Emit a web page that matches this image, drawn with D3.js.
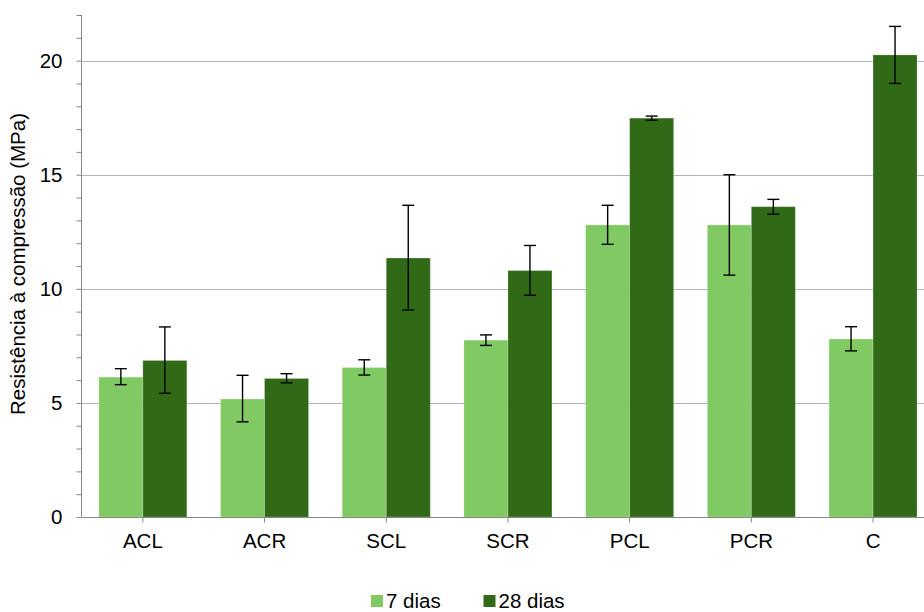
<!DOCTYPE html>
<html>
<head>
<meta charset="utf-8">
<script src="https://cdn.jsdelivr.net/npm/d3@7"></script>
<style>
  body { margin: 0; background: #fff; }
  text { font-family: "Liberation Sans", Arial, sans-serif; fill: #000; }
</style>
</head>
<body>
<div id="chart"></div>
<script>
// data
var categories = ["ACL", "ACR", "SCL", "SCR", "PCL", "PCR", "C"];
var series = ["7 dias", "28 dias"];
var dias7 = [6.13, 5.17, 6.55, 7.75, 12.8, 12.8, 7.8];
var dias7Low = [5.8, 4.17, 6.22, 7.52, 11.95, 10.6, 7.28];
var dias7High = [6.5, 6.21, 6.89, 7.98, 13.66, 15.0, 8.34];
var dias28 = [6.86, 6.07, 11.35, 10.8, 17.48, 13.6, 20.25];
var dias28Low = [5.42, 5.88, 9.07, 9.72, 17.39, 13.27, 19.0];
var dias28High = [8.33, 6.28, 13.66, 11.9, 17.57, 13.92, 21.5];
var colors = ["#80c963", "#316a17"];
var yTicks = [0, 5, 10, 15, 20];

var W = 924, H = 612;
var mLeft = 82, mTop = 15, mBottom = 517;
var band = 121.7;
var fs = "20.5px";

var svg = d3.select("#chart").append("svg")
    .attr("width", W)
    .attr("height", H);

var x = d3.scaleBand()
    .domain(categories)
    .range([mLeft, mLeft + band * categories.length])
    .padding(0);

var xs = d3.scaleBand()
    .domain(series)
    .range([0, x.bandwidth()])
    .paddingInner(0)
    .paddingOuter(0.383);

var y = d3.scaleLinear()
    .domain([0, 22])
    .range([mBottom, mTop]);

// grid
svg.append("g")
    .selectAll("line")
    .data(yTicks.filter(function (d) { return d > 0; }))
    .enter().append("line")
    .attr("x1", mLeft).attr("x2", W)
    .attr("y1", function (d) { return Math.round(y(d)) + 0.5; })
    .attr("y2", function (d) { return Math.round(y(d)) + 0.5; })
    .style("stroke", "#b4b4b4")
    .style("stroke-width", 1);

var rows = categories.map(function (c, i) {
    return [
        { cat: c, s: series[0], v: dias7[i], lo: dias7Low[i], hi: dias7High[i] },
        { cat: c, s: series[1], v: dias28[i], lo: dias28Low[i], hi: dias28High[i] }
    ];
});

var groups = svg.append("g").selectAll("g")
    .data(rows)
    .enter().append("g")
    .attr("transform", function (d, i) { return "translate(" + x(categories[i]) + ",0)"; });

groups.selectAll("rect")
    .data(function (d) { return d; })
    .enter().append("rect")
    .attr("x", function (d) { return xs(d.s); })
    .attr("width", xs.bandwidth())
    .attr("y", function (d) { return y(d.v); })
    .attr("height", function (d) { return y(0) - y(d.v); })
    .style("fill", function (d, i) { return colors[i]; })
    .style("stroke", "rgba(255,255,255,0.22)")
    .style("stroke-width", 1);

// error bars
var eb = groups.selectAll("g.err")
    .data(function (d) { return d; })
    .enter().append("g")
    .attr("class", "err")
    .attr("transform", function (d) { return "translate(" + (xs(d.s) + xs.bandwidth() / 2) + ",0)"; });

eb.append("line")
    .attr("y1", function (d) { return y(d.lo); })
    .attr("y2", function (d) { return y(d.hi); });
eb.append("line")
    .attr("x1", -6).attr("x2", 6)
    .attr("y1", function (d) { return y(d.lo); })
    .attr("y2", function (d) { return y(d.lo); });
eb.append("line")
    .attr("x1", -6).attr("x2", 6)
    .attr("y1", function (d) { return y(d.hi); })
    .attr("y2", function (d) { return y(d.hi); });
eb.selectAll("line").style("stroke", "#000").style("stroke-width", 1.4);

// y axis
var yAxis = svg.append("g")
    .attr("transform", "translate(" + (mLeft - 0.5) + ",0)")
    .call(d3.axisLeft(y).tickValues(d3.range(0, 23, 1)).tickSize(5).tickFormat(function (d) {
        return yTicks.indexOf(d) >= 0 ? d : "";
    }));
yAxis.select(".domain").attr("d", "M0," + mTop + "V" + mBottom).style("stroke", "#868686");
yAxis.selectAll(".tick line").style("stroke", "#868686");
yAxis.selectAll(".tick text")
    .attr("x", -19)
    .style("font-size", fs)
    .style("font-family", "Liberation Sans, Arial, sans-serif");

// x axis
var xAxis = svg.append("g")
    .attr("transform", "translate(0," + (mBottom + 0.5) + ")")
    .call(d3.axisBottom(x).tickSize(5).tickPadding(11));
xAxis.select(".domain").attr("d", "M" + mLeft + ",0H" + W).style("stroke", "#868686");
xAxis.selectAll(".tick line").style("stroke", "#868686");
xAxis.selectAll(".tick text")
    .style("font-size", fs)
    .style("font-family", "Liberation Sans, Arial, sans-serif");

// y title
svg.append("text")
    .attr("transform", "translate(25,264) rotate(-90)")
    .attr("text-anchor", "middle")
    .style("font-size", fs)
    .text("Resistência à compressão (MPa)");

// legend
var legendX = [371, 483.5];
var lg = svg.append("g").selectAll("g")
    .data(series)
    .enter().append("g")
    .attr("transform", function (d, i) { return "translate(" + legendX[i] + ",595)"; });
lg.append("rect")
    .attr("width", 12).attr("height", 12)
    .style("fill", function (d, i) { return colors[i]; });
lg.append("text")
    .attr("x", 15).attr("y", 12.5)
    .style("font-size", fs)
    .text(function (d) { return d; });
</script>
</body>
</html>
